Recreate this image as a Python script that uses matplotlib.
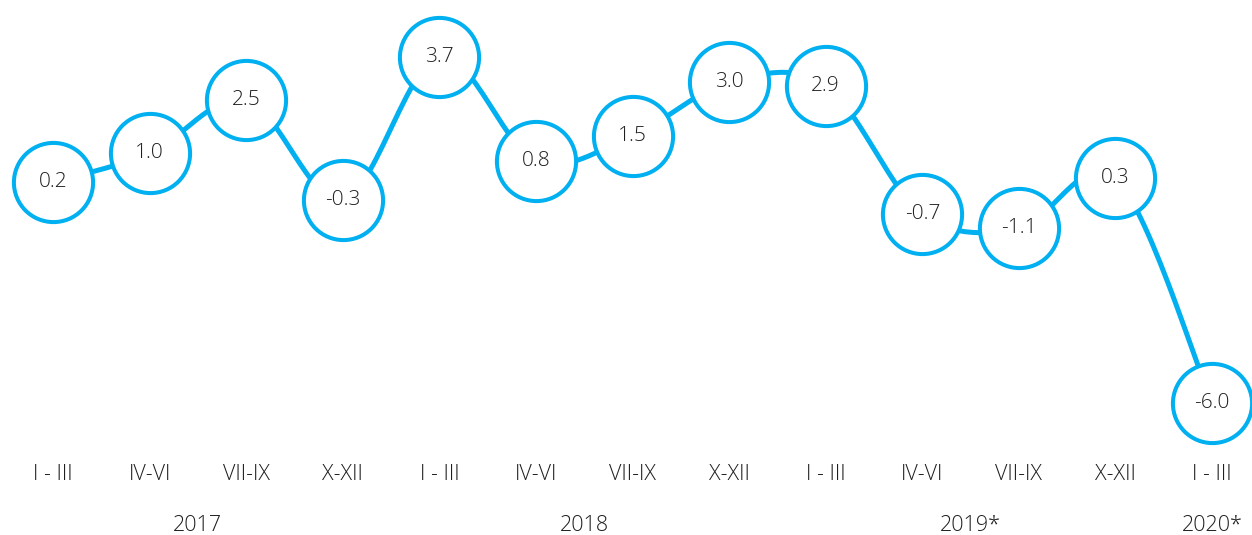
import numpy as np
import matplotlib.pyplot as plt

quarters = ["I - III", "IV-VI", "VII-IX", "X-XII",
            "I - III", "IV-VI", "VII-IX", "X-XII",
            "I - III", "IV-VI", "VII-IX", "X-XII",
            "I - III"]
values = [0.2, 1.0, 2.5, -0.3, 3.7, 0.8, 1.5, 3.0, 2.9, -0.7, -1.1, 0.3, -6.0]
years = ["2017", "2018", "2019*", "2020*"]
year_pos = [1.5, 5.5, 9.5, 12]

blue = "#00B0F0"
txt = "#1f1f1f"
plt.rcParams["font.family"] = ["Open Sans", "DejaVu Sans"]


def smooth(x, y, t=0.5, n=30):
    # cardinal spline through the points (like a smoothed line)
    px, py = [], []
    for i in range(len(x) - 1):
        x0, y0 = (x[i - 1], y[i - 1]) if i > 0 else (x[i], y[i])
        x3, y3 = (x[i + 2], y[i + 2]) if i + 2 < len(x) else (x[i + 1], y[i + 1])
        x1, y1, x2, y2 = x[i], y[i], x[i + 1], y[i + 1]
        c1 = (x1 + (x2 - x0) * t / 3, y1 + (y2 - y0) * t / 3)
        c2 = (x2 - (x3 - x1) * t / 3, y2 - (y3 - y1) * t / 3)
        s = np.linspace(0, 1, n)
        bx = (1-s)**3*x1 + 3*(1-s)**2*s*c1[0] + 3*(1-s)*s**2*c2[0] + s**3*x2
        by = (1-s)**3*y1 + 3*(1-s)**2*s*c1[1] + 3*(1-s)*s**2*c2[1] + s**3*y2
        px.extend(bx)
        py.extend(by)
    return px, py


fig = plt.figure(figsize=(12.52, 5.35), dpi=100)
ax = fig.add_axes([0, 0, 1, 1])
x = np.arange(len(values))
y = np.array(values)

sx, sy = smooth(x, y)
ax.plot(sx, sy, color=blue, lw=3.6, solid_capstyle="round", zorder=1)
ax.scatter(x, y, s=3250, facecolor="white",
           edgecolor=blue, linewidth=2.9, zorder=2)
for xi, v in zip(x, values):
    ax.text(xi, v, f"{v:.1f}", ha="center", va="center",
            fontsize=15, fontweight="light", color=txt, zorder=3)

for xi, q in zip(x, quarters):
    ax.text(xi, -8.01, q, ha="center", va="center", fontsize=15.5,
            fontweight="light", color=txt)
for xp, yl in zip(year_pos, years):
    ax.text(xp, -9.44, yl, ha="center", va="center", fontsize=15.5,
            fontweight="light", color=txt)

ax.set_xlim(-0.549, 12.414)
ax.set_ylim(-9.70, 5.30)
ax.axis("off")
fig.savefig("out.png", dpi=100)
